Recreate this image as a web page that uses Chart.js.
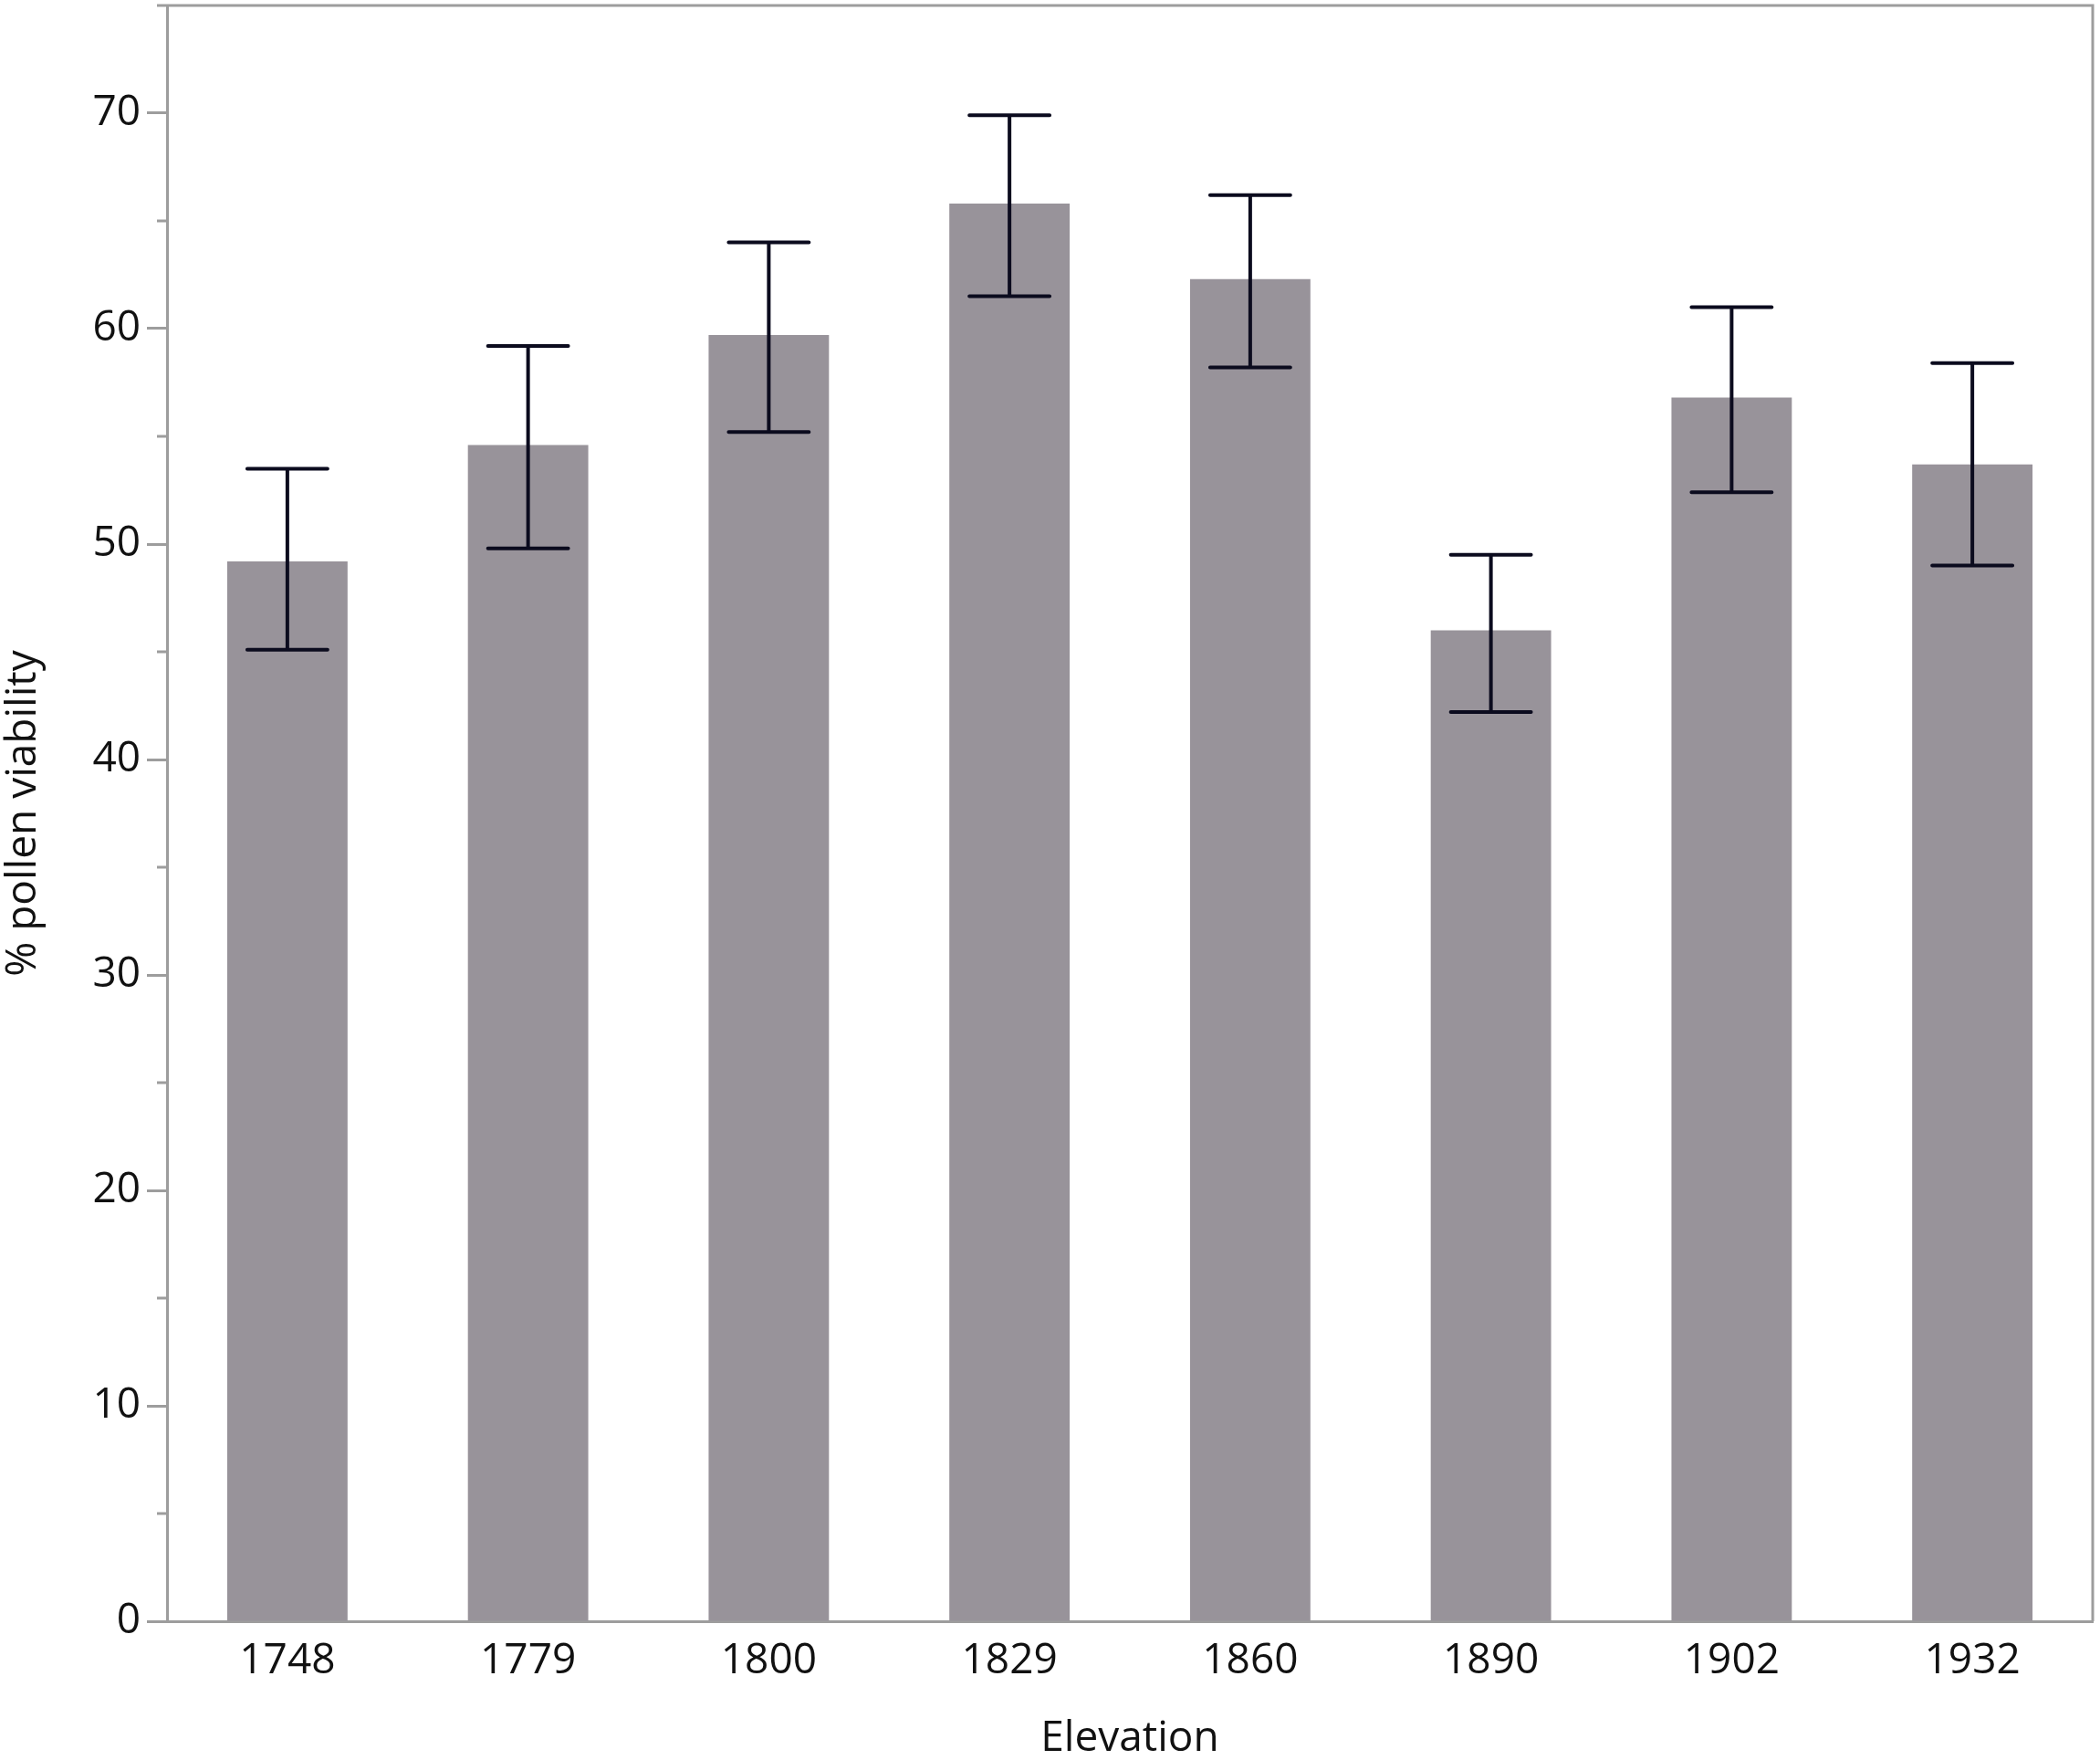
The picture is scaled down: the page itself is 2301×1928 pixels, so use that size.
<!DOCTYPE html>
<html>
<head>
<meta charset="utf-8">
<script src="https://cdn.jsdelivr.net/npm/chart.js@4.4.1/dist/chart.umd.min.js"></script>
<style>
  html, body { margin: 0; padding: 0; background: #fff; }
  #wrap { width: 2301px; height: 1928px; }
</style>
</head>
<body>
<div id="wrap"><canvas id="chart" width="2301" height="1928"></canvas></div>
<script>
// data
const elevations = ['1748', '1779', '1800', '1829', '1860', '1890', '1902', '1932'];
const viability = [49.2, 54.6, 59.7, 65.8, 62.3, 46.0, 56.8, 53.7];
const errLow = [45.1, 49.8, 55.2, 61.5, 58.2, 42.2, 52.4, 49.0];
const errHigh = [53.5, 59.2, 64.0, 69.9, 66.2, 49.5, 61.0, 58.4];
const yMin = 0;
const yMax = 75;
const yStep = 5;      // minor step, labels every 10

const AXIS = '#9d9d9d';
const FONT = "'Open Sans', 'Noto Sans', sans-serif";

const extras = {
  id: 'extras',
  afterDatasetsDraw(chart) {
    const ctx = chart.ctx;
    const y = chart.scales.y;
    const meta = chart.getDatasetMeta(0);
    ctx.save();
    ctx.strokeStyle = '#0b0b1e';
    ctx.lineWidth = 4;
    ctx.lineCap = 'round';
    meta.data.forEach((bar, i) => {
      const half = bar.width / 3;
      const top = y.getPixelForValue(errHigh[i]);
      const bot = y.getPixelForValue(errLow[i]);
      ctx.beginPath();
      ctx.moveTo(bar.x, top); ctx.lineTo(bar.x, bot);
      ctx.moveTo(bar.x - half, top); ctx.lineTo(bar.x + half, top);
      ctx.moveTo(bar.x - half, bot); ctx.lineTo(bar.x + half, bot);
      ctx.stroke();
    });
    ctx.restore();
  },
  afterDraw(chart) {
    const ctx = chart.ctx;
    const a = chart.chartArea;
    const y = chart.scales.y;
    ctx.save();
    ctx.strokeStyle = AXIS;
    ctx.lineWidth = 3;
    // frame top + right
    ctx.beginPath();
    ctx.moveTo(a.left, a.top);
    ctx.lineTo(a.right, a.top);
    ctx.lineTo(a.right, a.bottom);
    ctx.stroke();
    // minor ticks
    ctx.beginPath();
    y.ticks.forEach(t => {
      if (t.value % 10 !== 0) {
        const py = y.getPixelForValue(t.value);
        ctx.moveTo(a.left - 11, py);
        ctx.lineTo(a.left, py);
      }
    });
    ctx.stroke();
    ctx.restore();
  }
};

new Chart(document.getElementById('chart'), {
  type: 'bar',
  data: {
    labels: elevations,
    datasets: [{
      label: '% pollen viability',
      data: viability,
      backgroundColor: '#98939a',
      borderWidth: 0,
      barPercentage: 0.5,
      categoryPercentage: 1
    }]
  },
  options: {
    responsive: false,
    animation: false,
    devicePixelRatio: 1,
    layout: { padding: { top: 6, right: 8, left: 0, bottom: 0 } },
    plugins: {
      legend: { display: false },
      tooltip: { enabled: false }
    },
    scales: {
      x: {
        grid: { display: false },
        border: { display: true, color: AXIS, width: 3 },
        ticks: {
          color: '#111',
          padding: 8,
          font: { family: FONT, size: 46 }
        },
        title: {
          display: true,
          text: 'Elevation',
          color: '#111',
          font: { family: FONT, size: 46, lineHeight: 1 },
          padding: { top: 0, bottom: 0 }
        },
        afterFit(scale) {
          scale.height = 152;
          scale.paddingLeft = 0;
          scale.paddingRight = 0;
        }
      },
      y: {
        min: yMin,
        max: yMax,
        grid: {
          drawOnChartArea: false,
          drawTicks: true,
          tickLength: 22,
          tickWidth: 3,
          tickColor: (c) => (c.tick && c.tick.value % 10 === 0 ? AXIS : 'rgba(0,0,0,0)')
        },
        border: { display: true, color: AXIS, width: 3 },
        ticks: {
          stepSize: yStep,
          color: '#111',
          padding: 7,
          font: { family: FONT, size: 46 },
          callback: (v) => (v % 10 === 0 ? String(v) : '')
        },
        title: {
          display: true,
          text: '% pollen viability',
          color: '#111',
          font: { family: FONT, size: 46, lineHeight: 1 },
          padding: { top: 3, bottom: 0 }
        },
        afterFit(scale) {
          scale.width = 183;
          scale.paddingTop = 0;
          scale.paddingBottom = 0;
        }
      }
    }
  },
  plugins: [extras]
});
</script>
</body>
</html>
